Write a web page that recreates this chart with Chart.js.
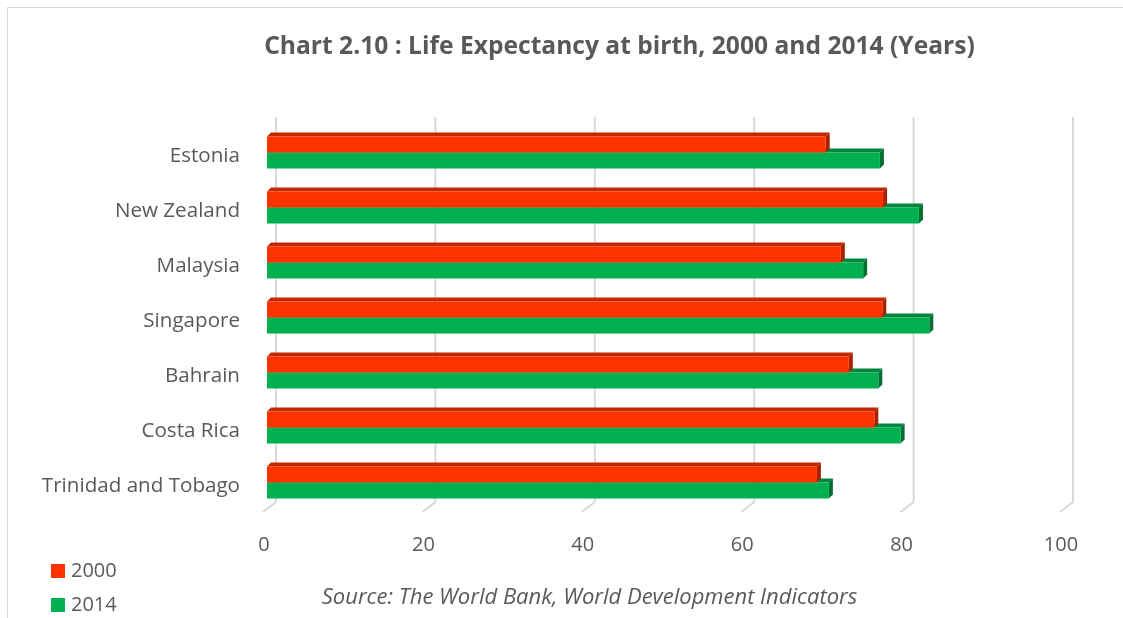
<!DOCTYPE html>
<html>
<head>
<meta charset="utf-8">
<script src="https://cdn.jsdelivr.net/npm/chart.js@4"></script>
<style>
  html, body { margin: 0; padding: 0; background: #fff; overflow: hidden; }
  #wrap { position: relative; width: 1123px; height: 618px; font-family: "Open Sans", sans-serif; color: #595959; }
  #frame { position: absolute; left: 7px; top: 7px; width: 1200px; height: 700px; border: 1px solid #d9d9d9; }
  #title { position: absolute; left: 0; width: 1239px; top: 28px; text-align: center; font-weight: bold; font-size: 24.6px; white-space: nowrap; }
  #source { position: absolute; left: 0; width: 1179px; top: 580px; text-align: center; font-style: italic; font-size: 22px; white-space: nowrap; }
  #legend { position: absolute; left: 51px; top: 555px; font-size: 20px; }
  #legend div { height: 34px; line-height: 30px; white-space: nowrap; }
  #legend span.box { display: inline-block; width: 14px; height: 14px; margin-right: 6px; vertical-align: -1px; }
  canvas { position: absolute; left: 0; top: 0; }
</style>
</head>
<body>
<div id="wrap">
  <div id="frame"></div>
  <canvas id="lifeChart" width="1123" height="618"></canvas>
  <div id="title">Chart 2.10 : Life Expectancy at birth, 2000 and 2014 (Years)</div>
  <div id="legend"></div>
  <div id="source">Source: The World Bank, World Development Indicators</div>
</div>
<script>
// Страны и значения (лет)
const countries = ['Estonia', 'New Zealand', 'Malaysia', 'Singapore', 'Bahrain', 'Costa Rica', 'Trinidad and Tobago'];
const years = ['2000', '2014'];
const life2000 = [70.1, 77.3, 72.0, 77.2, 73.0, 76.2, 69.0];
const life2014 = [76.9, 81.8, 74.8, 83.1, 76.7, 79.5, 70.5];
const xTicks = [0, 20, 40, 60, 80, 100];

const colors = ['#ff3300', '#00b050'];
const topColors = ['#c42800', '#00873d'];
const sideColors = ['#a82200', '#006e31'];

// Псевдо-3D: сетка с "полом" и грани столбцов
const depth3d = {
    id: 'depth3d',
    beforeDatasetsDraw(chart) {
        const ctx = chart.ctx;
        const x = chart.scales.x;
        const top = 117, backBottom = 502, frontBottom = 512;
        ctx.save();
        ctx.strokeStyle = '#d9d9d9';
        ctx.lineWidth = 2;
        xTicks.forEach(v => {
            const px = x.getPixelForValue(v);
            ctx.beginPath();
            ctx.moveTo(px + 9, top);
            ctx.lineTo(px + 9, backBottom);
            ctx.lineTo(px - 4, frontBottom);
            ctx.stroke();
        });

        const d = 4;
        for (let i = chart.data.datasets.length - 1; i >= 0; i--) {
            const meta = chart.getDatasetMeta(i);
            meta.data.forEach(bar => {
                const t = bar.y - bar.height / 2;
                const b = bar.y + bar.height / 2;
                // верхняя грань
                ctx.fillStyle = topColors[i];
                ctx.beginPath();
                ctx.moveTo(bar.base, t);
                ctx.lineTo(bar.x, t);
                ctx.lineTo(bar.x + d, t - d);
                ctx.lineTo(bar.base + d, t - d);
                ctx.closePath();
                ctx.fill();
                // боковая грань
                ctx.fillStyle = sideColors[i];
                ctx.beginPath();
                ctx.moveTo(bar.x, t);
                ctx.lineTo(bar.x + d, t - d);
                ctx.lineTo(bar.x + d, b - d);
                ctx.lineTo(bar.x, b);
                ctx.closePath();
                ctx.fill();
            });
        }
        ctx.restore();
    }
};

const ctx = document.getElementById('lifeChart').getContext('2d');
const chart = new Chart(ctx, {
    type: 'bar',
    data: {
        labels: countries,
        datasets: [
            { label: years[0], data: life2000, backgroundColor: colors[0], barPercentage: 1, categoryPercentage: 0.58 },
            { label: years[1], data: life2014, backgroundColor: colors[1], barPercentage: 1, categoryPercentage: 0.58 }
        ]
    },
    options: {
        indexAxis: 'y',
        responsive: false,
        animation: false,
        layout: { padding: { left: 0, right: 59, top: 125, bottom: 48 } },
        plugins: {
            legend: { display: false },
            tooltip: { enabled: false }
        },
        scales: {
            x: {
                min: 0,
                max: 100,
                afterBuildTicks: s => { s.ticks = xTicks.map(v => ({ value: v })); },
                afterFit: s => { s.height = 60; },
                grid: { display: false, drawTicks: false },
                border: { display: false },
                ticks: {
                    padding: 23,
                    labelOffset: -3,
                    color: '#595959',
                    font: { family: 'Open Sans', size: 20 }
                }
            },
            y: {
                afterFit: s => { s.width = 267; },
                grid: { display: false, drawTicks: false },
                border: { display: false },
                ticks: {
                    padding: 27,
                    labelOffset: 4,
                    color: '#595959',
                    font: { family: 'Open Sans', size: 20.6 }
                }
            }
        }
    },
    plugins: [depth3d]
});

// Легенда
const legend = document.getElementById('legend');
chart.data.datasets.forEach(ds => {
    const row = document.createElement('div');
    row.innerHTML = '<span class="box" style="background:' + ds.backgroundColor + '"></span>' + ds.label;
    legend.appendChild(row);
});
</script>
</body>
</html>
